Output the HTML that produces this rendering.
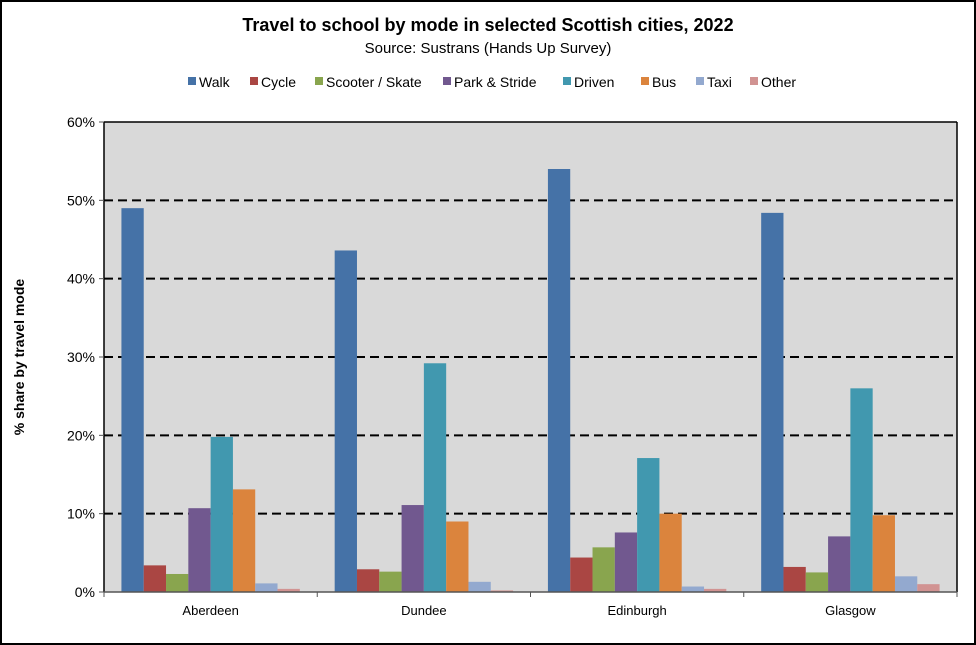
<!DOCTYPE html>
<html><head><meta charset="utf-8"><style>
html,body{margin:0;padding:0;background:#fff;}
svg{display:block;font-family:"Liberation Sans",Arial,sans-serif;}
</style></head><body>
<svg id="chart" width="976" height="645" viewBox="0 0 976 645">
<rect x="1" y="1" width="974" height="643" fill="#fff" stroke="#000" stroke-width="2"/>
<text x="488" y="31" text-anchor="middle" font-size="18" font-weight="bold">Travel to school by mode in selected Scottish cities, 2022</text>
<text x="488" y="53" text-anchor="middle" font-size="15">Source: Sustrans (Hands Up Survey)</text>
<g id="legend"></g>
<rect x="104" y="122" width="853" height="470" fill="#d9d9d9"/>
<g id="grid"></g>
<g id="bars"></g>
<line x1="104" y1="122" x2="104" y2="592" stroke="#000" stroke-width="1.5"/>
<line x1="957" y1="122" x2="957" y2="592" stroke="#000" stroke-width="1.5"/>
<line x1="104" y1="122" x2="957" y2="122" stroke="#000" stroke-width="1.5"/>
<line x1="104" y1="592" x2="957" y2="592" stroke="#555" stroke-width="1.5"/>
<g id="axes"></g>
<text transform="translate(24,357) rotate(-90)" text-anchor="middle" font-size="14" font-weight="bold">% share by travel mode</text>
</svg>
<script>
const categories = ["Aberdeen","Dundee","Edinburgh","Glasgow"];
const seriesNames = ["Walk","Cycle","Scooter / Skate","Park & Stride","Driven","Bus","Taxi","Other"];
const walk    = [49.0, 43.6, 54.0, 48.4];
const cycle   = [3.4, 2.9, 4.4, 3.2];
const scooter = [2.3, 2.6, 5.7, 2.5];
const parkStride = [10.7, 11.1, 7.6, 7.1];
const driven  = [19.8, 29.2, 17.1, 26.0];
const bus     = [13.1, 9.0, 10.0, 9.8];
const taxi    = [1.1, 1.3, 0.7, 2.0];
const other   = [0.4, 0.2, 0.4, 1.0];
const yTicks = [0,10,20,30,40,50,60];
const yTickLabels = ["0%","10%","20%","30%","40%","50%","60%"];

const series = [walk,cycle,scooter,parkStride,driven,bus,taxi,other];
const colors = ["#4572a7","#aa4643","#89a54e","#71588f","#4198af","#db843d","#93a9cf","#d19392"];
const NS="http://www.w3.org/2000/svg";
const L=104,R=957,T=122,B=592,yMax=60;
const y=v=>B-(v/yMax)*(B-T);
const catW=(R-L)/categories.length;
const barW=22.3;
const x=(ci,si)=>L+ci*catW+(catW-barW*series.length)/2+si*barW;
function mk(tag,attrs,parent){const e=document.createElementNS(NS,tag);for(const k in attrs)e.setAttribute(k,attrs[k]);parent.appendChild(e);return e;}
const grid=document.getElementById('grid'),bars=document.getElementById('bars'),axes=document.getElementById('axes'),legend=document.getElementById('legend');
yTicks.forEach((t,i)=>{
  if(t>0&&t<yMax){const g=mk('line',{x1:L,x2:R,y1:y(t),y2:y(t),stroke:'#000','stroke-width':2,'stroke-dasharray':'9,5'},grid);
  
  }
  const tk=mk('line',{x1:L-5,x2:L,y1:y(t),y2:y(t),stroke:'#555'},axes);
  
  
  const lb=mk('text',{x:L-9,y:y(t)+5,'text-anchor':'end','font-size':14},axes);
  lb.textContent=yTickLabels[i];
  
  
});
categories.forEach((c,ci)=>{
  series.forEach((s,si)=>{
    const r=mk('rect',{x:x(ci,si),y:y(s[ci]),width:barW,height:B-y(s[ci]),fill:colors[si]},bars);
    
    
  });
  const tx=mk('line',{x1:L+ci*catW,x2:L+ci*catW,y1:B,y2:B+5,stroke:'#555'},axes);
  
  
  const lb=mk('text',{x:L+(ci+0.5)*catW,y:B+23,'text-anchor':'middle','font-size':13},axes);
  lb.textContent=c;
  
  
});
const tr=mk('line',{x1:R,x2:R,y1:B,y2:B+5,stroke:'#555'},axes);


const legX=[188,250,315,443,563,641,696,750];
seriesNames.forEach((n,i)=>{
  const g=mk('g',{},legend);
  
  
  mk('rect',{x:legX[i],y:77,width:8,height:8,fill:colors[i]},g);
  const t=mk('text',{x:legX[i]+11,y:87,'font-size':14},g);
  t.textContent=n;
});
</script>
</body></html>
